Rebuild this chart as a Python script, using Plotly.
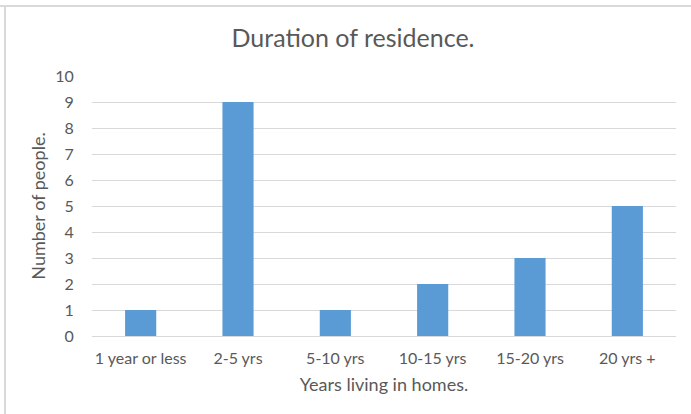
import plotly.graph_objects as go

categories = ["1 year or less", "2-5 yrs", "5-10 yrs", "10-15 yrs", "15-20 yrs", "20 yrs +"]
values = [1, 9, 1, 2, 3, 5]
y_ticks = list(range(0, 11))

W, H = 691, 414
L, R, T, B = 92, 15, 76, 78
pw, ph = W - L - R, H - T - B

font_family = "Lato, 'Open Sans', sans-serif"
grey = "#595959"

fig = go.Figure(go.Bar(x=categories, y=values, marker_color="#5B9BD5",
                       marker_line_width=0, width=0.32))

fig.update_layout(
    width=W, height=H,
    margin=dict(l=L, r=R, t=T, b=B, autoexpand=False),
    paper_bgcolor="white", plot_bgcolor="white",
    font=dict(family=font_family, color=grey, size=16),
    title=dict(text="Duration of residence.", x=353 / W, xref="container",
               y=1 - 38 / H, yref="container", xanchor="center", yanchor="middle",
               font=dict(size=25, color=grey)),
    showlegend=False,
    xaxis=dict(showgrid=False, showline=True, linecolor="#d9d9d9", linewidth=1,
               automargin=False,
               ticks="outside", ticklen=8, tickcolor="rgba(0,0,0,0)",
               tickfont=dict(size=16, color=grey),
               title=dict(text="Years living in homes.", font=dict(size=18, color=grey), standoff=12)),
    yaxis=dict(range=[0, 10], tickvals=y_ticks, showgrid=True, gridcolor="#d9d9d9",
               automargin=False,
               gridwidth=1, zeroline=False, showline=False,
               ticks="outside", ticklen=14, tickcolor="rgba(0,0,0,0)",
               tickfont=dict(size=16, color=grey),
               title=dict(text="Number of people.", font=dict(size=18, color=grey), standoff=4)),
    shapes=[
        dict(type="line", xref="paper", yref="paper",
             x0=(0 - L) / pw, x1=(W - L) / pw, y0=(H - B - 6) / ph, y1=(H - B - 6) / ph,
             line=dict(color="#d9d9d9", width=2)),
        dict(type="line", xref="paper", yref="paper",
             x0=(5 - L) / pw, x1=(5 - L) / pw, y0=(H - B - 6) / ph, y1=(H - B - H) / ph,
             line=dict(color="#d9d9d9", width=2)),
    ],
)

fig.write_html("out.html", config={"displayModeBar": False},
               post_script="document.body.style.margin='0';document.body.style.overflow='hidden';")
